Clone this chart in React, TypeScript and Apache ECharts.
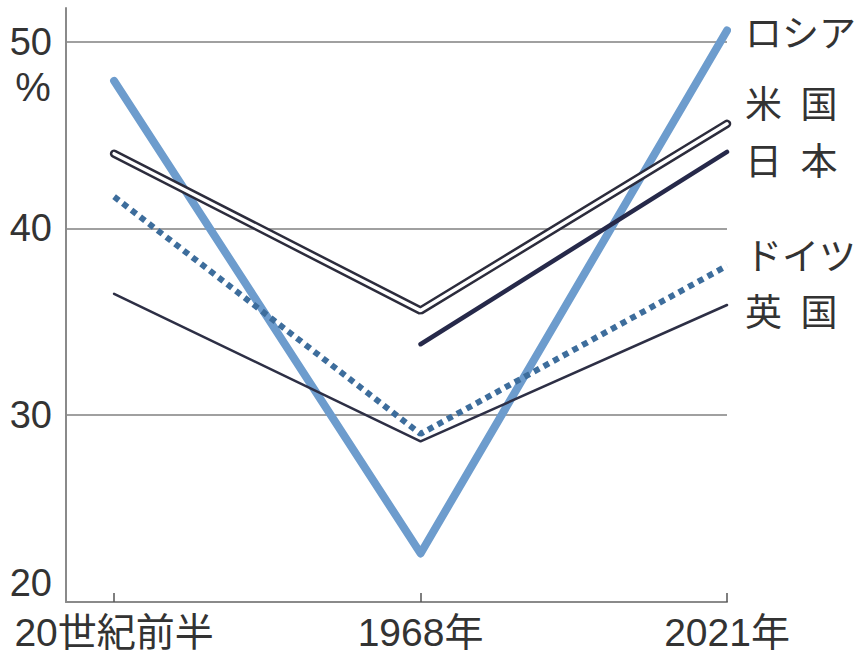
import React, { useEffect, useRef } from "react";
import * as echarts from "echarts";

const categories = ["20世紀前半", "1968年", "2021年"];
const russia = [47.9, 22.6, 50.6];
const usa = [44.0, 35.6, 45.6];
const japan: (number | null)[] = [null, 33.8, 44.1];
const germany = [41.7, 29.0, 38.0];
const uk = [36.5, 28.6, 35.9];
const yTicks = [20, 30, 40, 50];
const endNames = ["ロシア", "米\u2002国", "日\u2002本", "ドイツ", "英\u2002国"];
const endLabelY = [34, 105, 162, 257, 313];

const FONT = "'Liberation Sans', 'Noto Sans CJK JP', sans-serif";

const toPairs = (arr: (number | null)[]) =>
  arr.map((v, i) => [i, v]).filter((p) => p[1] !== null);

export default function App() {
  const ref = useRef<HTMLDivElement>(null);
  useEffect(() => {
    if (!ref.current) return;
    const chart = echarts.init(ref.current, null, { renderer: "svg" });
    const base = {
      type: "line",
      symbol: "none",
      clip: false,
      silent: true,
    };
    chart.setOption({
      animation: false,
      backgroundColor: "#ffffff",
      grid: { left: 66, right: 137, top: 8, bottom: 54 },
      xAxis: {
        type: "value",
        min: -0.157,
        max: 2,
        splitLine: { show: false },
        axisLine: { show: true, onZero: false, lineStyle: { color: "#8a8a8a", width: 2 } },
        axisTick: {
          show: true,
          inside: true,
          length: 9,
          customValues: [0, 1, 2],
          lineStyle: { color: "#555", width: 1.5 },
        },
        axisLabel: {
          customValues: [0, 1, 2],
          formatter: (v: number) => categories[Math.round(v)] ?? "",
          fontSize: 39,
          fontFamily: FONT,
          color: "#333",
          margin: 11,
        },
      },
      yAxis: {
        type: "value",
        min: yTicks[0],
        max: 51.8,
        interval: 10,
        axisLine: { show: true, onZero: false, lineStyle: { color: "#8a8a8a", width: 2 } },
        axisTick: { show: false },
        splitLine: {
          show: true,
          showMinLine: false,
          showMaxLine: false,
          lineStyle: { color: "#a0a0a0", width: 2 },
        },
        axisLabel: {
          showMaxLabel: false,
          verticalAlignMinLabel: "bottom",
          formatter: (v: number) => (yTicks.includes(v) ? String(v) : ""),
          fontSize: 38,
          fontFamily: FONT,
          color: "#333",
          margin: 14,
        },
      },
      series: [
        {
          ...base,
          name: "ロシア",
          data: toPairs(russia),
          lineStyle: { color: "#6d9ccd", width: 8, cap: "round", join: "round" },
        },
        {
          ...base,
          name: "英国",
          data: toPairs(uk),
          lineStyle: { color: "#2d2f45", width: 2.5, cap: "round" },
        },
        {
          ...base,
          name: "ドイツ",
          data: toPairs(germany),
          lineStyle: { color: "#3d6d9c", width: 6, type: [6, 5], cap: "butt" },
        },
        {
          ...base,
          name: "日本",
          data: toPairs(japan),
          lineStyle: { color: "#26294a", width: 4.5, cap: "round" },
        },
        {
          ...base,
          name: "米国",
          data: toPairs(usa),
          lineStyle: { color: "#2c2c3c", width: 8.5, cap: "round" },
        },
        {
          ...base,
          name: "米国inner",
          data: toPairs(usa),
          lineStyle: { color: "#ffffff", width: 3.5, cap: "round" },
        },
      ],
      graphic: [
        {
          type: "text",
          x: 33,
          y: 87,
          style: {
            text: "%",
            fontSize: 40,
            fontFamily: "'Liberation Sans', sans-serif",
            fill: "#333",
            align: "center",
            verticalAlign: "middle",
          },
        },
        ...endNames.map((n, i) => ({
          type: "text",
          x: 745,
          y: endLabelY[i],
          style: {
            text: n,
            fontSize: 37,
            fontFamily: FONT,
            fill: "#333",
            align: "left",
            verticalAlign: "middle",
          },
        })),
      ],
    });
    return () => chart.dispose();
  }, []);
  return (
    <div
      ref={ref}
      style={{ position: "fixed", left: 0, top: 0, width: 864, height: 656 }}
    />
  );
}
